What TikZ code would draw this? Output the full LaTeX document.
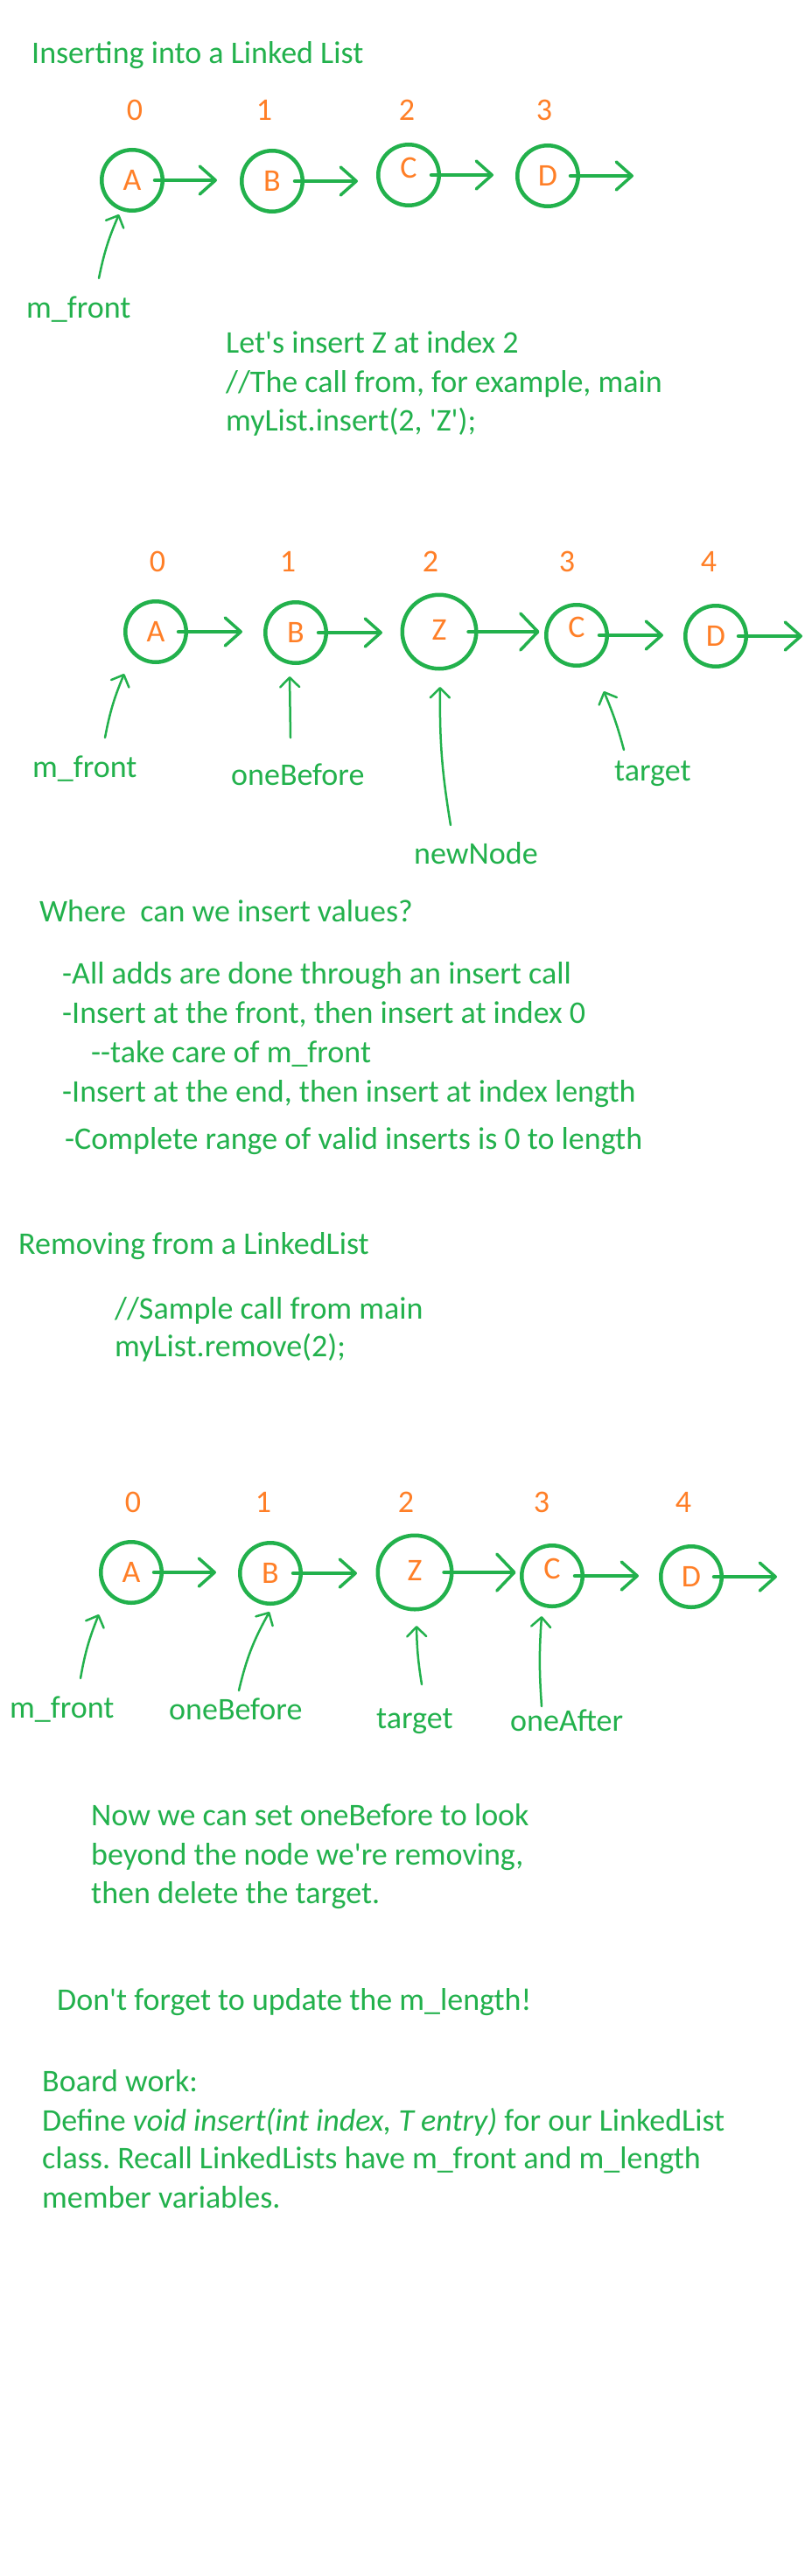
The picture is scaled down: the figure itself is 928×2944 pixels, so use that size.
\documentclass[tikz,border=0pt]{standalone}
\usepackage{fontspec}
\newfontfamily\cali{Carlito}
\usetikzlibrary{arrows.meta,calc}
\definecolor{pg}{RGB}{34,177,76}
\definecolor{po}{RGB}{255,127,39}
\frenchspacing
\begin{document}
\begin{tikzpicture}[x=1pt,y=-1pt,
  every node/.style={font=\cali\fontsize{36}{44}\selectfont\frenchspacing},
  txt/.style={anchor=base west,inner sep=0pt,text=pg},
  idx/.style={anchor=base,inner sep=0pt,text=po},
  nd/.style={circle,draw=pg,line width=4.5pt,minimum size=69.5pt,inner sep=0pt,text=po,text height=23pt,text depth=0pt},
  bignd/.style={nd,minimum size=84.5pt},
  link/.style={draw=pg,line width=4.5pt,line cap=round,shorten <=-11pt,-{Straight Barb[length=18pt,width=32pt,line width=3.5pt,round]}},
  biglink/.style={link,-{Straight Barb[length=20pt,width=42pt,line width=3.5pt,round]}},
  ptr/.style={draw=pg,line width=2.5pt,line cap=round,-{Straight Barb[length=11pt,width=22pt,line width=2.5pt,round]}}
]
\fill[white] (0,0) rectangle (928,2944);
\useasboundingbox (0,0) rectangle (928,2944);

% ---------- Section 1 ----------
\node[txt] (t1) at (36,73) {Inserting into a Linked List};
\node[idx] (a0) at (154,137) {0};
\node[idx] (a1) at (302,137) {1};
\node[idx] (a2) at (465,137) {2};
\node[idx] (a3) at (622,137) {3};
\node[nd] (A1) at (151,206) {A};
\node[nd] (B1) at (311,207) {B};
\node[nd] (C1) at (467,200) {\raisebox{8pt}{C}};
\node[nd] (D1) at (626,201) {D};
\coordinate (A1e) at ($(A1.east)+(60,0)$);
\coordinate (B1e) at ($(B1.east)+(61,0)$);
\coordinate (C1e) at ($(C1.east)+(60,0)$);
\coordinate (D1e) at ($(D1.east)+(61,0)$);
\draw[link] (A1.east) -- (A1e);
\draw[link] (B1.east) -- (B1e);
\draw[link] (C1.east) -- (C1e);
\draw[link] (D1.east) -- (D1e);
\node[txt] (mf1) at (30,363) {m\_front};
\coordinate (mf1s) at (113,318);
\coordinate (mf1e) at (136,245);
\draw[ptr] (mf1s) to[bend left=6] (mf1e);
\node[txt] (l1) at (258,403) {Let's insert Z at index 2};
\node[txt] (l2) at (258,448) {//The call from, for example, main};
\node[txt] (l3) at (258,492) {myList.insert(2, 'Z');};

% ---------- Section 2 ----------
\node[idx] (b0) at (180,653) {0};
\node[idx] (b1) at (329,653) {1};
\node[idx] (b2) at (492,653) {2};
\node[idx] (b3) at (648,653) {3};
\node[idx] (b4) at (810,653) {4};
\node[nd] (A2) at (178,722) {A};
\node[nd] (B2) at (338,723) {B};
\node[bignd] (Z2) at (502,722) {\raisebox{2pt}{Z}};
\node[nd] (C2) at (659,726) {\raisebox{9pt}{C}};
\node[nd] (D2) at (818,727) {D};
\coordinate (A2e) at ($(A2.east)+(62,0)$);
\coordinate (B2e) at ($(B2.east)+(62,0)$);
\coordinate (Z2e) at ($(Z2.east)+(70,0)$);
\coordinate (C2e) at ($(C2.east)+(62,0)$);
\coordinate (D2e) at ($(D2.east)+(62,0)$);
\draw[link] (A2.east) -- (A2e);
\draw[link] (B2.east) -- (B2e);
\draw[biglink] (Z2.east) -- (Z2e);
\draw[link] (C2.east) -- (C2e);
\draw[link] (D2.east) -- (D2e);
\node[txt] (mf2) at (37,888) {m\_front};
\node[txt] (ob2) at (264,897) {oneBefore};
\node[txt] (nn2) at (473,987) {newNode};
\node[txt] (tg2) at (702,892) {target};
\coordinate (mf2s) at (120,843);
\coordinate (mf2e) at (142,770);
\coordinate (ob2s) at (332,843);
\coordinate (ob2e) at (331,773);
\coordinate (nn2s) at (515,943);
\coordinate (nn2e) at (503,785);
\coordinate (tg2s) at (713,857);
\coordinate (tg2e) at (690,790);
\draw[ptr] (mf2s) to[bend left=6] (mf2e);
\draw[ptr] (ob2s) -- (ob2e);
\draw[ptr] (nn2s) to[bend left=5] (nn2e);
\draw[ptr] (tg2s) to[bend right=4] (tg2e);

% ---------- Section 3 ----------
\node[txt] (w0) at (45,1053) {Where\ \ can we insert values?};
\node[txt] (w1) at (71,1124) {-All adds are done through an insert call};
\node[txt] (w2) at (71,1169) {-Insert at the front, then insert at index 0};
\node[txt] (w3) at (104,1214) {-\kern0pt-take care of m\_front};
\node[txt] (w4) at (71,1259) {-Insert at the end, then insert at index length};
\node[txt] (w5) at (74,1313) {-Complete range of valid inserts is 0 to length};
\node[txt] (r0) at (21,1433) {Removing from a LinkedList};
\node[txt] (r1) at (131,1507) {//Sample call from main};
\node[txt] (r2) at (131,1550) {myList.remove(2);};

% ---------- Section 4 ----------
\node[idx] (c0) at (152,1728) {0};
\node[idx] (c1) at (301,1728) {1};
\node[idx] (c2) at (464,1728) {2};
\node[idx] (c3) at (619,1728) {3};
\node[idx] (c4) at (781,1728) {4};
\node[nd] (A4) at (150,1797) {A};
\node[nd] (B4) at (309,1798) {B};
\node[bignd] (Z4) at (474,1797) {\raisebox{2pt}{Z}};
\node[nd] (C4) at (631,1801) {\raisebox{8pt}{C}};
\node[nd] (D4) at (790,1802) {D};
\coordinate (A4e) at ($(A4.east)+(60,0)$);
\coordinate (B4e) at ($(B4.east)+(62,0)$);
\coordinate (Z4e) at ($(Z4.east)+(71,0)$);
\coordinate (C4e) at ($(C4.east)+(62,0)$);
\coordinate (D4e) at ($(D4.east)+(61,0)$);
\draw[link] (A4.east) -- (A4e);
\draw[link] (B4.east) -- (B4e);
\draw[biglink] (Z4.east) -- (Z4e);
\draw[link] (C4.east) -- (C4e);
\draw[link] (D4.east) -- (D4e);
\node[txt] (mf4) at (11,1963) {m\_front};
\node[txt] (ob4) at (193,1965) {oneBefore};
\node[txt] (tg4) at (430,1975) {target};
\node[txt] (oa4) at (583,1978) {oneAfter};
\coordinate (mf4s) at (92,1918);
\coordinate (mf4e) at (113,1845);
\coordinate (ob4s) at (273,1932);
\coordinate (ob4e) at (308,1842);
\coordinate (tg4s) at (482,1925);
\coordinate (tg4e) at (476,1858);
\coordinate (oa4s) at (619,1950);
\coordinate (oa4e) at (619,1847);
\draw[ptr] (mf4s) to[bend left=6] (mf4e);
\draw[ptr] (ob4s) to[bend left=8] (ob4e);
\draw[ptr] (tg4s) to[bend left=4] (tg4e);
\draw[ptr] (oa4s) to[bend left=4] (oa4e);

% ---------- Section 5 ----------
\node[txt] (n1) at (104,2086) {Now we can set oneBefore to look};
\node[txt] (n2) at (104,2131) {beyond the node we're removing,};
\node[txt] (n3) at (104,2175) {then delete the target.};
\node[txt] (dl) at (65,2297) {Don't forget to update the m\_length!};
\node[txt] (bw0) at (48,2390) {Board work:};
\node[txt] (bw1) at (48,2435) {Define \textit{void insert(int index, T entry)} for our LinkedList};
\node[txt] (bw2) at (48,2478) {class. Recall LinkedLists have m\_front and m\_length};
\node[txt] (bw3) at (48,2523) {member variables.};
\end{tikzpicture}
\end{document}
